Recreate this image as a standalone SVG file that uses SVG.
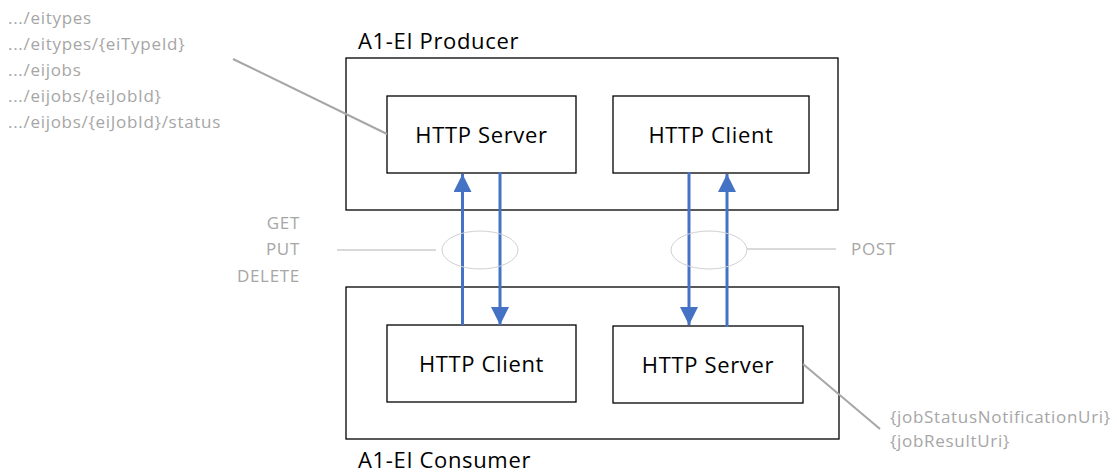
<svg xmlns="http://www.w3.org/2000/svg" width="1117" height="472" viewBox="0 0 1117 472">
<defs>
<style>
.box{fill:#fff;stroke:#000;stroke-width:1.3}
.lbl{font-family:"Open Sans","Liberation Sans",sans-serif;font-size:22px;letter-spacing:0.65px;fill:#000}
.note{font-family:"Open Sans","Liberation Sans",sans-serif;font-size:17px;letter-spacing:0.7px;fill:#a6a6a6}
.arr{stroke:#4472c4;stroke-width:3;fill:none}
.call{stroke:#a6a6a6;stroke-width:2;fill:none}
.lt{stroke:#d9d9d9;stroke-width:2;fill:none}
</style>
<marker id="ah" viewBox="0 0 10 10" refX="10" refY="5" markerWidth="9" markerHeight="6" markerUnits="strokeWidth" orient="auto">
<path d="M0,0 L10,5 L0,10 Z" fill="#4472c4"/>
</marker>
</defs>
<rect width="1117" height="472" fill="#fff"/>
<g id="producer">
<rect class="box" x="346" y="58" width="492" height="152"/>
<text class="lbl" x="358" y="49">A1-EI Producer</text>
</g>
<g id="consumer">
<rect class="box" x="346" y="287" width="493" height="152"/>
<text class="lbl" x="358" y="468">A1-EI Consumer</text>
</g>
<g id="producer-server">
<rect class="box" x="387" y="96" width="189" height="77"/>
<text class="lbl" x="481.5" y="143" text-anchor="middle">HTTP Server</text>
</g>
<g id="producer-client">
<rect class="box" x="613" y="96" width="196" height="77"/>
<text class="lbl" x="711" y="143" text-anchor="middle">HTTP Client</text>
</g>
<g id="consumer-client">
<rect class="box" x="387" y="325" width="189" height="77"/>
<text class="lbl" x="481.5" y="372" text-anchor="middle">HTTP Client</text>
</g>
<g id="consumer-server">
<rect class="box" x="613" y="326" width="190" height="77"/>
<text class="lbl" x="708" y="373" text-anchor="middle">HTTP Server</text>
</g>
<g id="connectors">
<line class="arr" x1="462.5" y1="325" x2="462.5" y2="174" marker-end="url(#ah)"/>
<line class="arr" x1="500" y1="172" x2="500" y2="325" marker-end="url(#ah)"/>
<line class="arr" x1="689" y1="172" x2="689" y2="325" marker-end="url(#ah)"/>
<line class="arr" x1="727" y1="327" x2="727" y2="174" marker-end="url(#ah)"/>
<ellipse cx="480" cy="250" rx="38" ry="19" fill="none" stroke="#d0d0d0" stroke-width="1"/>
<ellipse cx="709" cy="250" rx="38" ry="19" fill="none" stroke="#d0d0d0" stroke-width="1"/>
<line class="lt" x1="337" y1="250" x2="436" y2="250"/>
<line class="lt" x1="747" y1="249" x2="836" y2="249"/>
<line class="call" x1="233" y1="59" x2="387" y2="134"/>
<line class="call" x1="803" y1="364" x2="880" y2="429"/>
</g>
<g id="notes">
<text class="note" x="8" y="24">.../eitypes</text>
<text class="note" x="8" y="50">.../eitypes/{eiTypeId}</text>
<text class="note" x="8" y="76">.../eijobs</text>
<text class="note" x="8" y="102">.../eijobs/{eiJobId}</text>
<text class="note" x="8" y="128">.../eijobs/{eiJobId}/status</text>
<text class="note" x="300" y="229" text-anchor="end">GET</text>
<text class="note" x="300" y="255" text-anchor="end">PUT</text>
<text class="note" x="300" y="282" text-anchor="end">DELETE</text>
<text class="note" x="851" y="255">POST</text>
<text class="note" x="890" y="423">{jobStatusNotificationUri}</text>
<text class="note" x="890" y="447">{jobResultUri}</text>
</g>
</svg>
